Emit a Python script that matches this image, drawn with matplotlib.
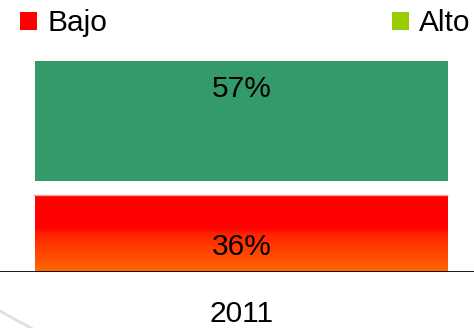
import matplotlib
matplotlib.use('Agg')
import matplotlib.pyplot as plt
import numpy as np
from matplotlib.colors import LinearSegmentedColormap
from matplotlib.patches import Patch
from matplotlib.lines import Line2D

plt.rcParams['font.family'] = ['Liberation Sans', 'DejaVu Sans']

# data
years = ['2011']
bajo = [36]
medio = [7]
alto = [57]
labels = ['Bajo', 'Alto']

fig = plt.figure(figsize=(4.74, 3.28), dpi=100)
ax = fig.add_axes([0, 56/328, 1, 211/328])

x = np.arange(len(years))
w = 1.0
fs = 21.5

# bottom segment with red -> orange gradient
cmap = LinearSegmentedColormap.from_list('ro', [(0, '#FF6A00'), (0.5, '#FF2200'),
                                                (0.58, '#FF0000'), (1, '#FF0000')])
bars = ax.bar(x, bajo, width=w, color='none', edgecolor='none')
for b in bars:
    grad = np.linspace(0, 1, 256).reshape(-1, 1)
    im = ax.imshow(grad, cmap=cmap, origin='lower', aspect='auto',
                   extent=[b.get_x(), b.get_x() + b.get_width(), 0, b.get_height()], zorder=1)
    im.set_clip_path(b)
    ax.hlines(b.get_height() + 0.5, b.get_x() - 0.005, b.get_x() + b.get_width(),
              color='#F4A0A0', lw=1, zorder=2)

ax.bar(x, medio, bottom=bajo, width=w, color='white', edgecolor='none')
ax.bar(x, alto, bottom=np.add(bajo, medio), width=w, color='#359A6A', edgecolor='none')

for i in range(len(years)):
    ax.text(x[i], bajo[i] * 0.33, f'{bajo[i]}%', ha='center', va='center', fontsize=fs)
    ax.text(x[i], bajo[i] + medio[i] + alto[i] * 0.765, f'{alto[i]}%', ha='center',
            va='center', fontsize=fs)

ax.set_xlim(-0.5 - 35/413, 0.5 + 26/413)
ax.set_ylim(0, 100)
for s in ax.spines.values():
    s.set_visible(False)
ax.axhline(0, color='black', lw=2, zorder=3)
ax.set_yticks([])
ax.set_xticks(x)
ax.set_xticklabels(years, fontsize=fs)
ax.tick_params(axis='x', length=0, pad=20)

handles = [Patch(facecolor='#FF0000'), Patch(facecolor='#99CC00')]
fig.legend(handles, labels, loc='upper left', bbox_to_anchor=(-0.014, 1.054), ncol=2,
           frameon=False, fontsize=fs, handlelength=0.55, handleheight=0.55,
           handletextpad=0.35, columnspacing=9.55)

# faint decorative arc bottom left
fig.add_artist(Line2D([0, 0.03, 0.066], [1 - 311/328, 1 - 319/328, 0], color='#e0e0e0', lw=2))

fig.savefig('out.png', dpi=100)
